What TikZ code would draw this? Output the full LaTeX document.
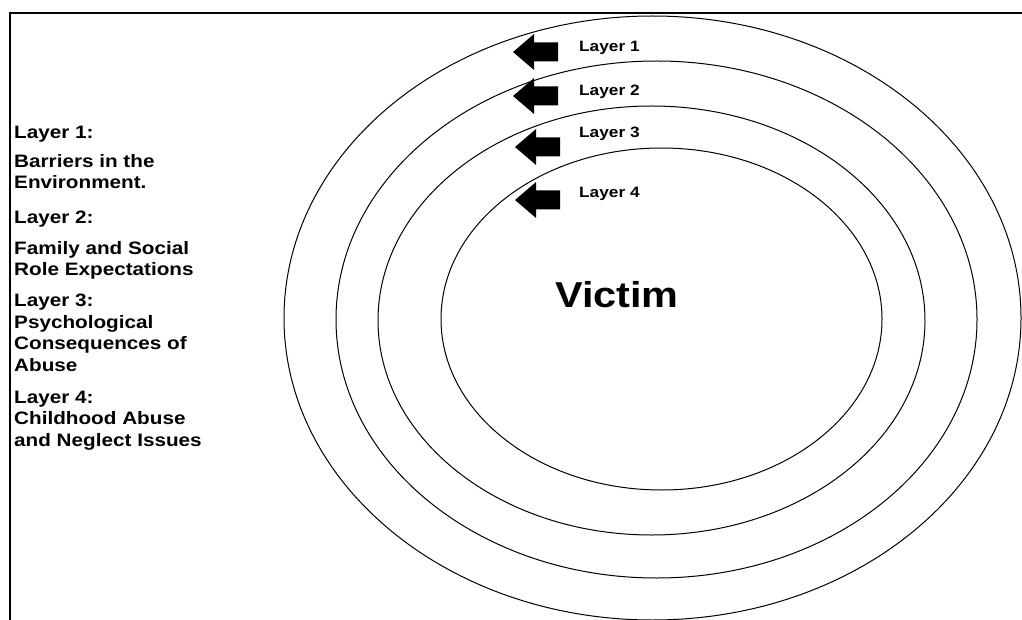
\documentclass[tikz,border=0pt]{standalone}
\usepackage{fontspec}
\setmainfont{Liberation Sans}[FakeStretch=1.15]
\usetikzlibrary{positioning}

\tikzset{
  ring/.style={line width=1pt},
  frame/.style={line width=1.6pt},
  lbl/.style={font=\bfseries\fontsize{15}{18}\selectfont, anchor=west, inner sep=0pt},
  side/.style={font=\bfseries\fontsize{18}{21.5}\selectfont, align=left, anchor=base west, inner sep=0pt},
  pics/blockarrow/.style={code={
    \fill (0,0) -- (21,-18) -- (21,-9.5) -- (45,-9.5) -- (45,9.5) -- (21,9.5) -- (21,18) -- cycle;}}
}

\begin{document}
\begin{tikzpicture}[x=1pt,y=-1pt]
\clip (0,0) rectangle (1022,620);
\fill[white] (0,0) rectangle (1022,620);
% frame (only left and top edges show)
\draw[frame] (10,625) -- (10,13) -- (1030,13);
% the four layers
\foreach \cx/\cy/\rx/\ry in {652.5/318/368.5/302, 656.5/319.5/320.5/258.5,
  651.5/320.5/273.5/214.5, 661.5/319/220.5/171}
  \draw[ring] (\cx,\cy) ellipse [x radius=\rx, y radius=\ry];
% arrows and labels
\pic (arr1) at (513,52) {blockarrow};
\pic (arr2) at (513,96) {blockarrow};
\pic (arr3) at (515,147) {blockarrow};
\pic (arr4) at (515,200) {blockarrow};
\node[lbl] (lay1) at (579,48) {Layer 1};
\node[lbl] (lay2) at (579,92) {Layer 2};
\node[lbl] (lay3) at (579,134) {Layer 3};
\node[lbl] (lay4) at (579,194) {Layer 4};
\node[font=\bfseries\fontsize{36}{40}\selectfont, inner sep=0pt] (victim) at (617,295) {Victim};
% key on the left (base = last line)
\node[side] (key1) at (14,139) {Layer 1:};
\node[side] (txt1) at (14,189) {Barriers in the\\Environment.};
\node[side] (key2) at (14,224) {Layer 2:};
\node[side] (txt2) at (14,276) {Family and Social\\Role Expectations};
\node[side] (key3) at (14,371) {Layer 3:\\Psychological\\Consequences of\\Abuse};
\node[side] (key4) at (14,446) {Layer 4:\\Childhood Abuse\\and Neglect Issues};
\end{tikzpicture}
\end{document}
